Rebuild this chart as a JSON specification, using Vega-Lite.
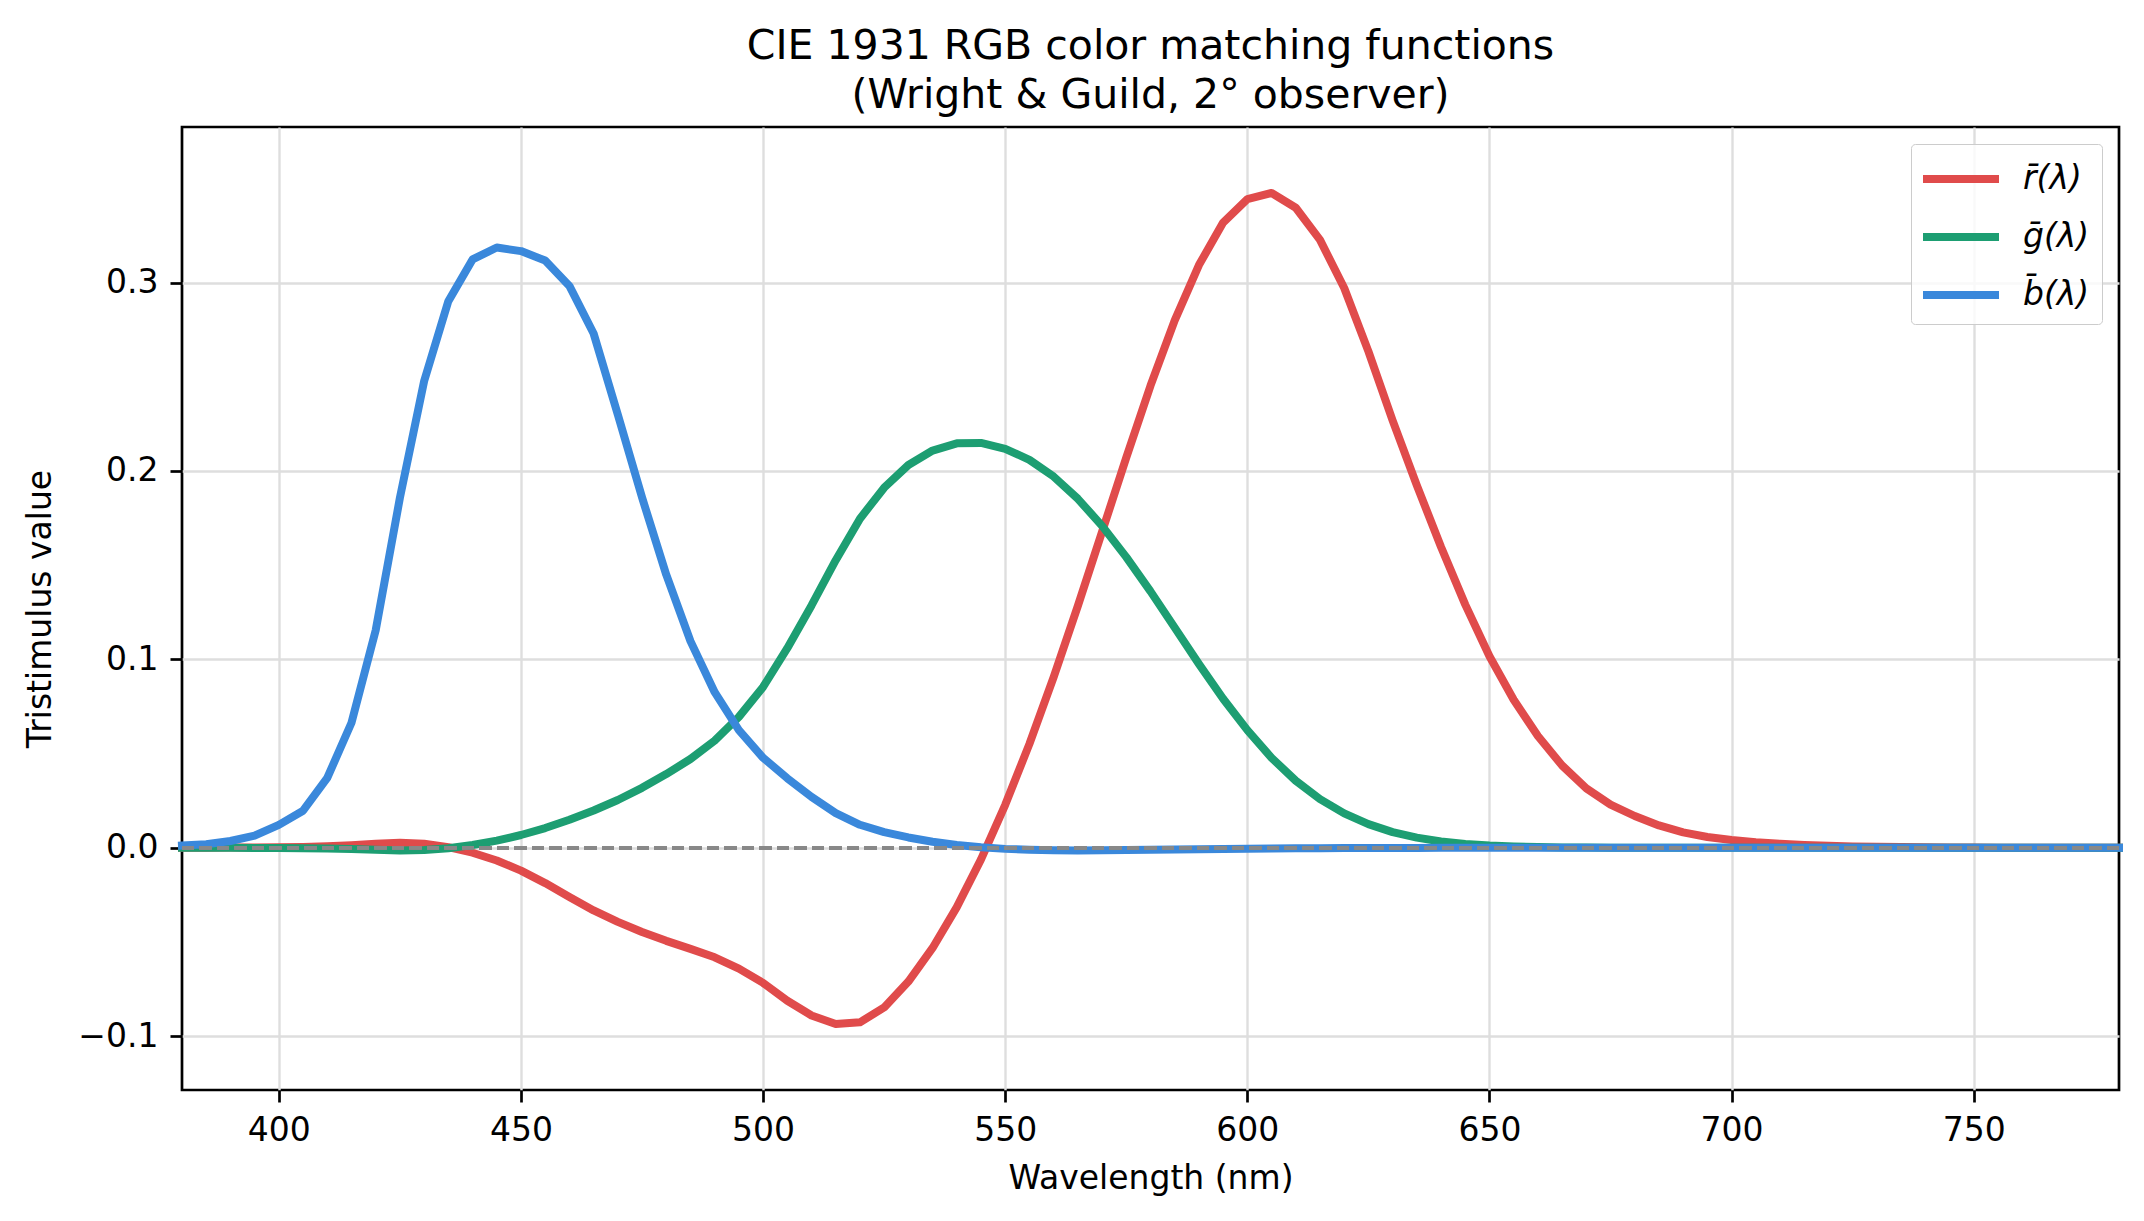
{
  "$schema": "https://vega.github.io/schema/vega-lite/v6.json",
  "width": 1937,
  "height": 963,
  "autosize": {"type": "none"},
  "padding": {"left": 182, "top": 127, "right": 25, "bottom": 131},
  "background": "white",
  "title": {
    "text": ["CIE 1931 RGB color matching functions", "(Wright & Guild, 2° observer)"],
    "anchor": "middle",
    "frame": "group",
    "font": "DejaVu Sans",
    "fontSize": 41,
    "fontWeight": "normal",
    "color": "black",
    "lineHeight": 49,
    "offset": 10
  },
  "config": {
    "font": "DejaVu Sans",
    "view": {"stroke": "black", "strokeWidth": 2.7},
    "axis": {
      "domain": false,
      "grid": true,
      "gridColor": "#dedede",
      "gridWidth": 2.4,
      "tickColor": "black",
      "tickWidth": 2.7,
      "tickSize": 12,
      "labelFont": "DejaVu Sans",
      "labelFontSize": 33,
      "labelColor": "black",
      "labelPadding": 12,
      "titleFont": "DejaVu Sans",
      "titleFontSize": 33,
      "titleFontWeight": "normal",
      "titleColor": "black"
    }
  },
  "data": {
    "values": [
      {"wl": 380, "r": 0.00003, "g": -0.00001, "b": 0.00117},
      {"wl": 385, "r": 0.00005, "g": -0.00002, "b": 0.00189},
      {"wl": 390, "r": 0.00010, "g": -0.00004, "b": 0.00359},
      {"wl": 395, "r": 0.00017, "g": -0.00007, "b": 0.00647},
      {"wl": 400, "r": 0.00030, "g": -0.00014, "b": 0.01214},
      {"wl": 405, "r": 0.00047, "g": -0.00022, "b": 0.01969},
      {"wl": 410, "r": 0.00084, "g": -0.00041, "b": 0.03707},
      {"wl": 415, "r": 0.00139, "g": -0.00070, "b": 0.06637},
      {"wl": 420, "r": 0.00211, "g": -0.00110, "b": 0.11541},
      {"wl": 425, "r": 0.00266, "g": -0.00143, "b": 0.18575},
      {"wl": 430, "r": 0.00218, "g": -0.00119, "b": 0.24769},
      {"wl": 435, "r": 0.00036, "g": -0.00021, "b": 0.29012},
      {"wl": 440, "r": -0.00261, "g": 0.00149, "b": 0.31228},
      {"wl": 445, "r": -0.00673, "g": 0.00379, "b": 0.31860},
      {"wl": 450, "r": -0.01213, "g": 0.00678, "b": 0.31670},
      {"wl": 455, "r": -0.01874, "g": 0.01046, "b": 0.31166},
      {"wl": 460, "r": -0.02608, "g": 0.01485, "b": 0.29821},
      {"wl": 465, "r": -0.03324, "g": 0.01977, "b": 0.27295},
      {"wl": 470, "r": -0.03933, "g": 0.02538, "b": 0.22991},
      {"wl": 475, "r": -0.04471, "g": 0.03183, "b": 0.18592},
      {"wl": 480, "r": -0.04939, "g": 0.03914, "b": 0.14494},
      {"wl": 485, "r": -0.05364, "g": 0.04713, "b": 0.10968},
      {"wl": 490, "r": -0.05814, "g": 0.05689, "b": 0.08257},
      {"wl": 495, "r": -0.06414, "g": 0.06948, "b": 0.06246},
      {"wl": 500, "r": -0.07173, "g": 0.08536, "b": 0.04776},
      {"wl": 505, "r": -0.08120, "g": 0.10593, "b": 0.03688},
      {"wl": 510, "r": -0.08901, "g": 0.12860, "b": 0.02698},
      {"wl": 515, "r": -0.09356, "g": 0.15262, "b": 0.01842},
      {"wl": 520, "r": -0.09264, "g": 0.17468, "b": 0.01221},
      {"wl": 525, "r": -0.08473, "g": 0.19113, "b": 0.00830},
      {"wl": 530, "r": -0.07101, "g": 0.20317, "b": 0.00549},
      {"wl": 535, "r": -0.05316, "g": 0.21083, "b": 0.00320},
      {"wl": 540, "r": -0.03152, "g": 0.21466, "b": 0.00146},
      {"wl": 545, "r": -0.00613, "g": 0.21487, "b": 0.00023},
      {"wl": 550, "r": 0.02279, "g": 0.21178, "b": -0.00058},
      {"wl": 555, "r": 0.05514, "g": 0.20588, "b": -0.00105},
      {"wl": 560, "r": 0.09060, "g": 0.19702, "b": -0.00130},
      {"wl": 565, "r": 0.12840, "g": 0.18522, "b": -0.00138},
      {"wl": 570, "r": 0.16768, "g": 0.17087, "b": -0.00135},
      {"wl": 575, "r": 0.20715, "g": 0.15429, "b": -0.00123},
      {"wl": 580, "r": 0.24526, "g": 0.13610, "b": -0.00108},
      {"wl": 585, "r": 0.27989, "g": 0.11686, "b": -0.00093},
      {"wl": 590, "r": 0.30928, "g": 0.09754, "b": -0.00079},
      {"wl": 595, "r": 0.33184, "g": 0.07909, "b": -0.00063},
      {"wl": 600, "r": 0.34429, "g": 0.06246, "b": -0.00049},
      {"wl": 605, "r": 0.34756, "g": 0.04776, "b": -0.00038},
      {"wl": 610, "r": 0.33971, "g": 0.03557, "b": -0.00030},
      {"wl": 615, "r": 0.32265, "g": 0.02583, "b": -0.00022},
      {"wl": 620, "r": 0.29708, "g": 0.01828, "b": -0.00015},
      {"wl": 625, "r": 0.26348, "g": 0.01253, "b": -0.00011},
      {"wl": 630, "r": 0.22677, "g": 0.00833, "b": -0.00008},
      {"wl": 635, "r": 0.19233, "g": 0.00537, "b": -0.00005},
      {"wl": 640, "r": 0.15968, "g": 0.00334, "b": -0.00003},
      {"wl": 645, "r": 0.12905, "g": 0.00199, "b": -0.00002},
      {"wl": 650, "r": 0.10167, "g": 0.00116, "b": -0.00001},
      {"wl": 655, "r": 0.07857, "g": 0.00066, "b": -0.00001},
      {"wl": 660, "r": 0.05932, "g": 0.00037, "b": 0},
      {"wl": 665, "r": 0.04366, "g": 0.00021, "b": 0},
      {"wl": 670, "r": 0.03149, "g": 0.00011, "b": 0},
      {"wl": 675, "r": 0.02294, "g": 0.00006, "b": 0},
      {"wl": 680, "r": 0.01687, "g": 0.00003, "b": 0},
      {"wl": 685, "r": 0.01187, "g": 0.00001, "b": 0},
      {"wl": 690, "r": 0.00819, "g": 0, "b": 0},
      {"wl": 695, "r": 0.00572, "g": 0, "b": 0},
      {"wl": 700, "r": 0.00410, "g": 0, "b": 0},
      {"wl": 705, "r": 0.00291, "g": 0, "b": 0},
      {"wl": 710, "r": 0.00210, "g": 0, "b": 0},
      {"wl": 715, "r": 0.00148, "g": 0, "b": 0},
      {"wl": 720, "r": 0.00105, "g": 0, "b": 0},
      {"wl": 725, "r": 0.00074, "g": 0, "b": 0},
      {"wl": 730, "r": 0.00052, "g": 0, "b": 0},
      {"wl": 735, "r": 0.00036, "g": 0, "b": 0},
      {"wl": 740, "r": 0.00025, "g": 0, "b": 0},
      {"wl": 745, "r": 0.00017, "g": 0, "b": 0},
      {"wl": 750, "r": 0.00012, "g": 0, "b": 0},
      {"wl": 755, "r": 0.00008, "g": 0, "b": 0},
      {"wl": 760, "r": 0.00006, "g": 0, "b": 0},
      {"wl": 765, "r": 0.00004, "g": 0, "b": 0},
      {"wl": 770, "r": 0.00003, "g": 0, "b": 0},
      {"wl": 775, "r": 0.00001, "g": 0, "b": 0},
      {"wl": 780, "r": 0, "g": 0, "b": 0}
    ]
  },
  "layer": [
    {
      "transform": [{"fold": ["r", "g", "b"], "as": ["series", "value"]}],
      "mark": {"type": "line", "strokeWidth": 8, "strokeJoin": "round", "strokeCap": "square"},
      "encoding": {
        "x": {
          "field": "wl",
          "type": "quantitative",
          "scale": {"domain": [380, 780], "nice": false, "zero": false},
          "axis": {
            "values": [400, 450, 500, 550, 600, 650, 700, 750],
            "title": "Wavelength (nm)",
            "titlePadding": 15,
            "labelFlush": false
          }
        },
        "y": {
          "field": "value",
          "type": "quantitative",
          "scale": {"domain": [-0.12856, 0.38256], "nice": false, "zero": false},
          "axis": {
            "values": [-0.1, 0, 0.1, 0.2, 0.3],
            "format": ".1f",
            "title": "Tristimulus value",
            "titlePadding": 20
          }
        },
        "color": {
          "field": "series",
          "type": "nominal",
          "scale": {"domain": ["r", "g", "b"], "range": ["#e04b4b", "#1d9e72", "#3a88db"]},
          "legend": {
            "title": null,
            "orient": "top-right",
            "offset": 17,
            "symbolType": "M-2,0H2",
            "symbolSize": 1444,
            "symbolStrokeWidth": 8,
            "symbolOffset": 15,
            "labelFont": "DejaVu Sans",
            "labelFontSize": 33,
            "labelFontStyle": "italic",
            "labelColor": "black",
            "labelOffset": 39,
            "labelExpr": "datum.label == 'r' ? 'r̄(λ)' : datum.label == 'g' ? 'ḡ(λ)' : 'b̄(λ)'",
            "strokeColor": "#cccccc",
            "fillColor": "rgba(255,255,255,0.8)",
            "padding": 12,
            "cornerRadius": 4,
            "rowPadding": 18
          }
        }
      }
    },
    {
      "mark": {"type": "rule", "color": "#888888", "strokeWidth": 2.7, "strokeDash": [12, 5.5]},
      "encoding": {"y": {"datum": 0}}
    }
  ]
}
